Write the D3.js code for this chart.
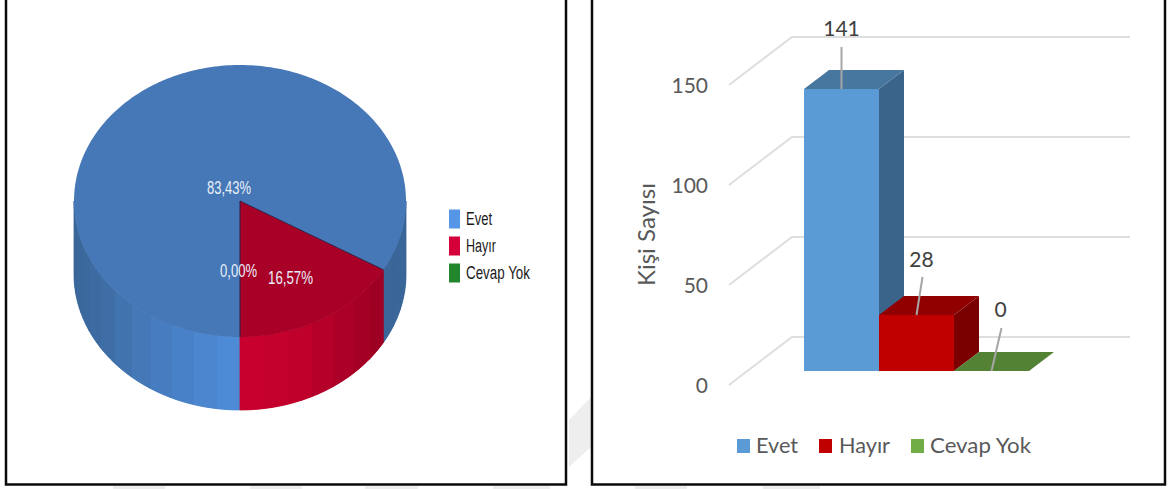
<!DOCTYPE html>
<html>
<head>
<meta charset="utf-8">
<script src="https://cdn.jsdelivr.net/npm/d3@7"></script>
<style>
    html, body { margin: 0; padding: 0; background: #fff; overflow: hidden; }
    svg { display: block; }
</style>
</head>
<body>
<div id="vis"></div>
<script>
(function() {
    const categories = ["Evet", "Hayır", "Cevap Yok"];
    const counts = [141, 28, 0];
    const axis_ticks = [0, 50, 100, 150];
    const axis_title = "Kişi Sayısı";

    const pie_legend_colors = ["#5596e6", "#d5003a", "#22862c"];
    const bar_colors = [
        { front: "#5b9bd5", top: "#47769f", side: "#3a6489" },
        { front: "#c00000", top: "#910000", side: "#7a0000" },
        { front: "#70ad47", top: "#548235", side: "#426a2a" }
    ];
    const bar_legend_colors = ["#5b9bd5", "#c00000", "#70ad47"];

    const width = 1170;
    const height = 489;

    const svg = d3.select("#vis").append("svg")
        .attr("width", width)
        .attr("height", height);

    // faint background bands, sit behind both panels
    const bands = svg.append("g").attr("fill", "#eeeeee");
    bands.append("polygon").attr("points", "569,420 591,397 591,447 569,467");
    [[113, 165], [250, 302], [365, 418], [493, 550], [635, 687], [763, 820]].forEach(b => {
        bands.append("rect")
            .attr("x", b[0])
            .attr("y", 486)
            .attr("width", b[1] - b[0])
            .attr("height", 3);
    });

    // panel frames, open at the top
    svg.append("g")
        .selectAll("path")
        .data([[6, 566], [592, 1165]])
        .enter()
        .append("path")
        .attr("d", d => `M${d[0]},-5V484.5H${d[1]}V-5`)
        .attr("fill", "#fff")
        .attr("stroke", "#0a0a0a")
        .attr("stroke-width", 2.5);

    /* ---------- left panel: tilted pie ---------- */
    const pieDepth = 73;
    const ex = d3.scaleLinear().domain([-1, 1]).range([74, 406]);
    const ey = d3.scaleLinear().domain([-1, 1]).range([65, 337]);

    // angle measured clockwise from 12 o'clock, squashed onto the ellipse
    const px = a => ex(Math.sin(a));
    const py = a => ey(-Math.cos(a));

    const slices = d3.pie().sort(null).startAngle(Math.PI).endAngle(3 * Math.PI)(counts);

    function arcPoints(a0, a1) {
        const n = Math.max(2, Math.ceil(Math.abs(a1 - a0) / 0.02));
        return d3.range(n + 1).map(i => {
            const a = a0 + (a1 - a0) * i / n;
            return [px(a), py(a)];
        });
    }

    const pieGroup = svg.append("g");
    const line = d3.line();

    const blueWall = d3.scaleLinear()
        .domain([74, 110, 160, 239])
        .range(["#3a6698", "#3f6fa8", "#477dc0", "#4f8ddb"]);
    const redWall = d3.scaleLinear()
        .domain([239, 290, 340, 382])
        .range(["#c9002f", "#c2002c", "#ae0028", "#9a0022"]);

    // wall is cut into vertical strips for the banded shading,
    // flat base colour first so the strip joins don't show through
    function drawWall(a0, a1, step, colorAt) {
        const whole = arcPoints(a0, a1);
        const back = whole.map(p => [p[0], p[1] + pieDepth]).reverse();
        pieGroup.append("path")
            .attr("d", line(whole.concat(back)) + "Z")
            .attr("fill", colorAt((px(a0) + px(a1)) / 2));

        const n = Math.max(1, Math.round((a1 - a0) / step));
        d3.range(n).forEach(i => {
            const s = a0 + (a1 - a0) * i / n;
            const e = a0 + (a1 - a0) * (i + 1) / n;
            const top = arcPoints(s, e);
            const bottom = top.map(p => [p[0], p[1] + pieDepth]).reverse();
            const c = colorAt((px(s) + px(e)) / 2);
            pieGroup.append("path")
                .attr("d", line(top.concat(bottom)) + "Z")
                .attr("fill", c)
                .attr("stroke", c)
                .attr("stroke-width", 0.8);
        });
    }

    const stepAngle = Math.PI / 22;
    const evet = slices[0];
    const hayir = slices[1];
    // pie angles run past a full turn, bring the wedge start back to 0..2PI
    const hayirStart = hayir.startAngle - 2 * Math.PI;
    const hayirEnd = hayir.endAngle - 2 * Math.PI;

    // front of the cylinder only: 90deg to 270deg
    drawWall(Math.PI / 2, hayirStart, stepAngle, () => "#3b6699");
    drawWall(Math.PI, 1.5 * Math.PI, stepAngle, blueWall);
    drawWall(hayirStart, hayirEnd, stepAngle, redWall);

    const topColors = ["#4677b6", "#a90028"];
    [evet, hayir].forEach((s, i) => {
        pieGroup.append("path")
            .attr("d", line([[ex(0), ey(0)]].concat(arcPoints(s.startAngle, s.endAngle))) + "Z")
            .attr("fill", topColors[i]);
    });

    // dark seams of the red wedge
    pieGroup.append("path")
        .attr("d", line([[px(hayirStart), py(hayirStart)], [ex(0), ey(0)], [ex(0), py(Math.PI)]]))
        .attr("fill", "none")
        .attr("stroke", "#2e1f45")
        .attr("stroke-width", 1);

    const pctText = v => (v / d3.sum(counts) * 100).toFixed(2).replace(".", ",") + "%";
    const pie_label_layout = [
        { x: 207, y: 194, w: 44 },
        { x: 268, y: 284, w: 45 },
        { x: 220, y: 277, w: 37 }
    ];
    svg.append("g")
        .selectAll("text")
        .data(counts)
        .enter()
        .append("text")
        .attr("x", (d, i) => pie_label_layout[i].x)
        .attr("y", (d, i) => pie_label_layout[i].y)
        .attr("textLength", (d, i) => pie_label_layout[i].w)
        .attr("lengthAdjust", "spacingAndGlyphs")
        .attr("font-family", "'Liberation Sans Narrow', 'Liberation Sans', sans-serif")
        .attr("font-size", 18)
        .attr("fill", "#e9eff9")
        .text(d => pctText(d));

    const pieLegendY = d3.scalePoint().domain(categories).range([219, 273]);
    const pieLegend = svg.append("g")
        .selectAll("g")
        .data(categories)
        .enter()
        .append("g")
        .attr("transform", d => `translate(449,${pieLegendY(d)})`);
    pieLegend.append("rect")
        .attr("y", -9.5)
        .attr("width", 11)
        .attr("height", 19)
        .attr("fill", (d, i) => pie_legend_colors[i]);
    pieLegend.append("text")
        .attr("x", 17)
        .attr("y", 6)
        .attr("textLength", (d, i) => [26, 30, 64][i])
        .attr("lengthAdjust", "spacingAndGlyphs")
        .attr("font-family", "'Liberation Sans Narrow', 'Liberation Sans', sans-serif")
        .attr("font-size", 18)
        .attr("fill", "#1a1a1a")
        .text(d => d);

    /* ---------- right panel: 3D columns ---------- */
    const fontFamily = "Lato, 'Open Sans', sans-serif";
    const textGrey = "#595959";

    const y = d3.scaleLinear().domain([0, 150]).range([385, 85]);
    const x = d3.scaleBand().domain(categories).range([804, 1029]);

    const wallDx = 63, wallDy = 48;     // side wall of the plot box
    const gridRight = 1130;
    const barLift = 14;                 // columns stand part way into the box
    const barDx = 25, barDy = 19;       // column depth

    svg.append("g")
        .selectAll("path")
        .data(axis_ticks)
        .enter()
        .append("path")
        .attr("d", d => `M729,${y(d)}L${729 + wallDx},${y(d) - wallDy}H${gridRight}`)
        .attr("fill", "none")
        .attr("stroke", "#dedede")
        .attr("stroke-width", 2);

    const yAxis = d3.axisLeft(y).tickValues(axis_ticks).tickSize(0).tickPadding(0);
    const axisG = svg.append("g")
        .attr("transform", "translate(708,1)")
        .call(yAxis);
    axisG.select(".domain").remove();
    axisG.selectAll("text")
        .attr("font-family", fontFamily)
        .attr("font-size", 21)
        .attr("fill", textGrey);

    svg.append("text")
        .attr("transform", "translate(655,234.5) rotate(-90)")
        .attr("text-anchor", "middle")
        .attr("textLength", 103)
        .attr("lengthAdjust", "spacingAndGlyphs")
        .attr("font-family", fontFamily)
        .attr("font-size", 23)
        .attr("fill", textGrey)
        .text(axis_title);

    const bars = svg.append("g")
        .selectAll("g")
        .data(counts)
        .enter()
        .append("g");

    bars.each(function(d, i) {
        const g = d3.select(this);
        const x0 = x(categories[i]);
        const x1 = x0 + x.bandwidth();
        const yTop = y(d) - barLift;
        const yBase = y(0) - barLift;
        g.append("polygon")
            .attr("points", [[x1, yTop], [x1 + barDx, yTop - barDy], [x1 + barDx, yBase - barDy], [x1, yBase]].join(" "))
            .attr("fill", bar_colors[i].side);
        g.append("polygon")
            .attr("points", [[x0, yTop], [x0 + barDx, yTop - barDy], [x1 + barDx, yTop - barDy], [x1, yTop]].join(" "))
            .attr("fill", bar_colors[i].top);
        g.append("rect")
            .attr("x", x0)
            .attr("y", yTop)
            .attr("width", x.bandwidth())
            .attr("height", yBase - yTop)
            .attr("fill", bar_colors[i].front);
    });

    // leader lines lean a bit more towards the right on each column
    const leader_layout = [
        { lean: 0, length: 42, labelDx: 0, labelGap: 11 },
        { lean: 6, length: 38, labelDx: 5, labelGap: 10 },
        { lean: 10, length: 43, labelDx: 9, labelGap: 11 }
    ];

    const leaders = svg.append("g");
    counts.forEach((d, i) => {
        const cx = x(categories[i]) + x.bandwidth() / 2;
        const yTop = y(d) - barLift;
        const l = leader_layout[i];
        leaders.append("line")
            .attr("x1", cx)
            .attr("y1", yTop)
            .attr("x2", cx + l.lean)
            .attr("y2", yTop - l.length)
            .attr("stroke", "#a6a6a6")
            .attr("stroke-width", 2);
        leaders.append("text")
            .attr("x", cx + l.labelDx)
            .attr("y", yTop - l.length - l.labelGap)
            .attr("text-anchor", "middle")
            .attr("font-family", fontFamily)
            .attr("font-size", 21)
            .attr("fill", "#404040")
            .text(d);
    });

    const legend_layout = [{ box: 737, text: 756, w: 42 }, { box: 819, text: 839, w: 51 }, { box: 911, text: 930, w: 101 }];
    const barLegend = svg.append("g")
        .selectAll("g")
        .data(categories)
        .enter()
        .append("g");
    barLegend.append("rect")
        .attr("x", (d, i) => legend_layout[i].box)
        .attr("y", 439)
        .attr("width", 13)
        .attr("height", 14)
        .attr("fill", (d, i) => bar_legend_colors[i]);
    barLegend.append("text")
        .attr("x", (d, i) => legend_layout[i].text)
        .attr("y", 453)
        .attr("textLength", (d, i) => legend_layout[i].w)
        .attr("lengthAdjust", "spacingAndGlyphs")
        .attr("font-family", fontFamily)
        .attr("font-size", 22)
        .attr("fill", textGrey)
        .text(d => d);
})();
</script>
</body>
</html>
